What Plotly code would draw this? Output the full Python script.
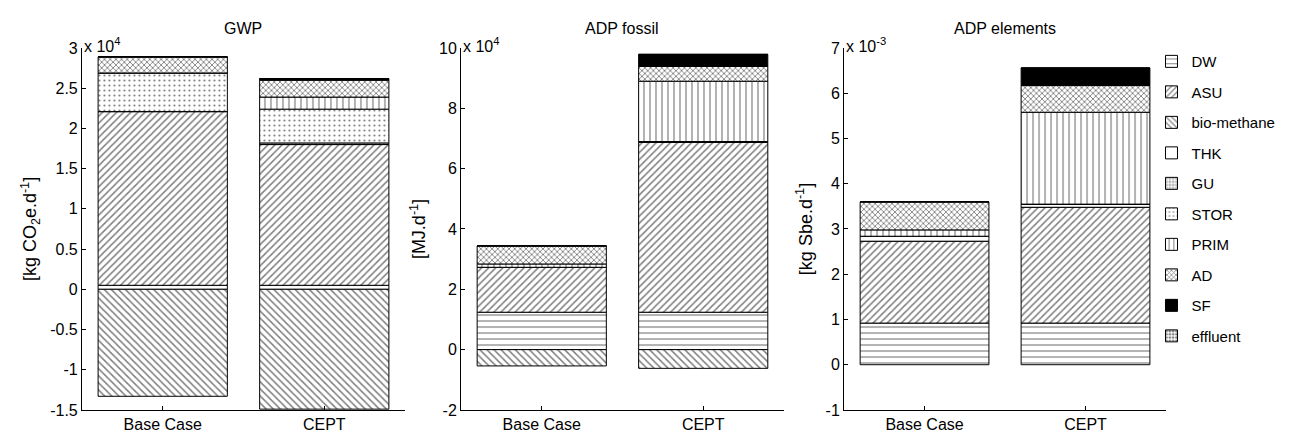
import plotly.graph_objects as go

categories = ["Base Case", "CEPT"]
series = ["DW", "ASU", "bio-methane", "THK", "GU", "STOR", "PRIM", "AD", "SF", "effluent"]

# GWP [x 1e4 kg CO2e/d], in series order
gwp_base = [0.05, 2.16, -1.33, 0.0, 0.0, 0.48, 0.0, 0.20, 0.0, 0.0]
gwp_cept = [0.05, 1.75, -1.49, 0.0, 0.02, 0.42, 0.15, 0.21, 0.02, 0.0]
# ADP fossil [x 1e4 MJ/d]
adpf_base = [1.24, 1.49, -0.54, 0.0, 0.0, 0.0, 0.11, 0.60, 0.0, 0.0]
adpf_cept = [1.24, 5.63, -0.62, 0.03, 0.0, 0.0, 2.00, 0.49, 0.40, 0.0]
# ADP elements [x 1e-3 kg Sbe/d]
adpe_base = [0.92, 1.81, 0.0, 0.11, 0.0, 0.0, 0.14, 0.62, 0.0, 0.0]
adpe_cept = [0.92, 2.56, 0.0, 0.07, 0.0, 0.0, 2.03, 0.59, 0.39, 0.0]

titles = ["GWP", "ADP fossil", "ADP elements"]
exponents = ["x 10<sup>4</sup>", "x 10<sup>4</sup>", "x 10<sup>-3</sup>"]
ylabels = ["[kg CO<sub>2</sub>e.d<sup>-1</sup>]", "[MJ.d<sup>-1</sup>]", "[kg Sbe.d<sup>-1</sup>]"]
yticks = [[-1.5, -1, -0.5, 0, 0.5, 1, 1.5, 2, 2.5, 3],
          [-2, 0, 2, 4, 6, 8, 10],
          [-1, 0, 1, 2, 3, 4, 5, 6, 7]]
panels = [(gwp_base, gwp_cept), (adpf_base, adpf_cept), (adpe_base, adpe_cept)]

styles = {
    "DW": dict(color="white", pattern=dict(shape="-", size=6, solidity=0.2, fgcolor="black", bgcolor="white")),
    "ASU": dict(color="white", pattern=dict(shape="/", size=5, solidity=0.3, fgcolor="black", bgcolor="white")),
    "bio-methane": dict(color="white", pattern=dict(shape="\\", size=5, solidity=0.3, fgcolor="black", bgcolor="white")),
    "THK": dict(color="white"),
    "GU": dict(color="white", pattern=dict(shape="+", size=4, solidity=0.3, fgcolor="black", bgcolor="white")),
    "STOR": dict(color="white", pattern=dict(shape=".", size=5, solidity=0.15, fgcolor="black", bgcolor="white")),
    "PRIM": dict(color="white", pattern=dict(shape="|", size=6, solidity=0.2, fgcolor="black", bgcolor="white")),
    "AD": dict(color="white", pattern=dict(shape="x", size=4, solidity=0.4, fgcolor="black", bgcolor="white")),
    "SF": dict(color="black"),
    "effluent": dict(color="white", pattern=dict(shape=".", size=4, solidity=0.5, fgcolor="black", bgcolor="white")),
}

def fmt(v):
    return "%g" % v

fig = go.Figure()
domains = [(0.0571, 0.3066), (0.3498, 0.5992), (0.6456, 0.8942)]
font = "Liberation Sans, Arial, sans-serif"

for p, (base, cept) in enumerate(panels):
    ax = "" if p == 0 else str(p + 1)
    for i, name in enumerate(series):
        st = styles[name]
        marker = dict(color=st["color"], line=dict(color="black", width=1))
        if "pattern" in st:
            marker["pattern"] = st["pattern"]
        fig.add_trace(go.Bar(
            x=categories, y=[base[i], cept[i]], name=name,
            marker=marker, width=0.8,
            xaxis="x" + ax, yaxis="y" + ax,
            legendgroup=name, showlegend=(p == 0),
        ))
    fig.update_layout(**{
        "xaxis" + ax: dict(domain=list(domains[p]), anchor="y" + ax, range=[-0.5, 1.5],
                           showline=True, linecolor="black", linewidth=1, ticks="inside",
                           ticklen=4, tickcolor="black", showgrid=False,
                           tickfont=dict(size=16, color="black", family=font)),
        "yaxis" + ax: dict(domain=[0.053, 0.923], anchor="x" + ax,
                           range=[yticks[p][0], yticks[p][-1]],
                           tickvals=yticks[p], ticktext=[fmt(v) for v in yticks[p]],
                           showline=True, linecolor="black", linewidth=1, ticks="inside",
                           ticklen=4, tickcolor="black", showgrid=False, zeroline=False,
                           tickfont=dict(size=16, color="black", family=font),
                           title=dict(text=ylabels[p], font=dict(size=18, color="black", family=font),
                                      standoff=8)),
    })
    fig.add_annotation(text=titles[p], xref="x" + ax + " domain", yref="paper",
                       x=0.5, y=0.995, xanchor="center", yanchor="top", showarrow=False,
                       font=dict(size=16, color="black", family=font))
    fig.add_annotation(text=exponents[p], xref="x" + ax + " domain", yref="y" + ax + " domain",
                       x=0.0, y=1.0, xanchor="left", yanchor="bottom", showarrow=False,
                       font=dict(size=16, color="black", family=font), xshift=0, yshift=-9)

fig.update_layout(
    width=1295, height=433,
    barmode="relative", bargap=0.2,
    plot_bgcolor="white", paper_bgcolor="white",
    margin=dict(l=0, r=0, t=0, b=0),
    font=dict(family=font, size=16, color="black"),
    legend=dict(x=0.883, y=0.93, xanchor="left", yanchor="top", traceorder="grouped",
                tracegroupgap=8, font=dict(size=15, color="black", family=font),
                bgcolor="rgba(0,0,0,0)", itemwidth=30),
)

fig.write_html("out.html")
